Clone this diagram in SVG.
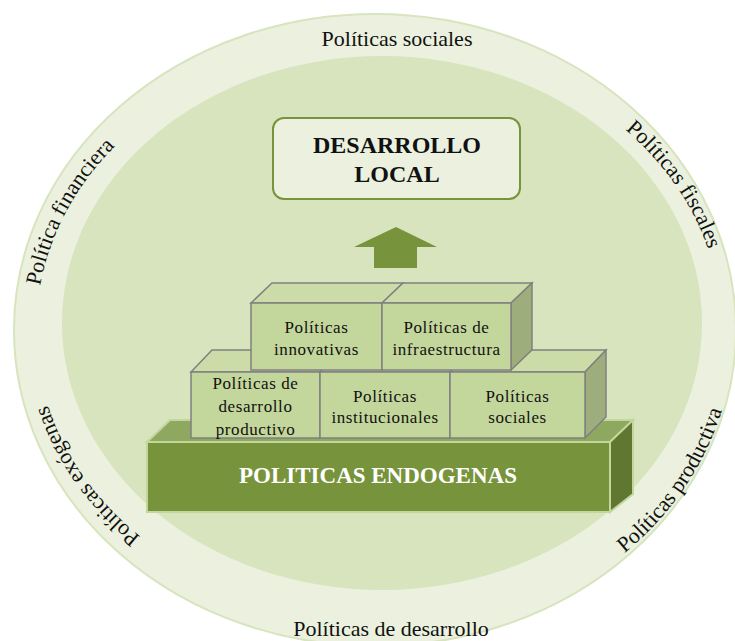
<svg xmlns="http://www.w3.org/2000/svg" xmlns:xlink="http://www.w3.org/1999/xlink" width="735" height="641" viewBox="0 0 735 641">
<style>
.ring{font-family:"Liberation Serif","Times New Roman",serif;font-size:22px;fill:#111;text-anchor:middle;}
.lbl{font-family:"Liberation Serif","Times New Roman",serif;font-size:17px;fill:#111;letter-spacing:0.6px;text-anchor:middle;}
.front{fill:#C3D69B;stroke:#808080;stroke-width:1.5;}
.top{fill:#CBDCA9;stroke:#808080;stroke-width:1.5;}
.side{fill:#9DAE7C;stroke:#808080;stroke-width:1.5;}
.bfront{fill:#77933C;stroke:#C3D69B;stroke-width:2;}
.btop{fill:#8FA85F;stroke:#C3D69B;stroke-width:2;}
.bside{fill:#5F7731;stroke:#C3D69B;stroke-width:2;}
</style>
<defs>
<path id="cwL" d="M 36,330 A 335 285 0 1 1 706,330 A 335 285 0 1 1 36,330"/>
<path id="cwR" d="M 52,330 A 335 285 0 1 1 722,330 A 335 285 0 1 1 52,330"/>
<path id="ccwR" d="M 36,330 A 349 307 0 1 0 734,330 A 349 307 0 1 0 36,330"/>
</defs>
<rect width="735" height="641" fill="#FFFFFF"/>
<g id="rings">
<ellipse cx="375" cy="330" rx="361" ry="316" fill="#EBF1DE" stroke="#D7E4BD" stroke-width="2"/>
<ellipse cx="382" cy="323" rx="320" ry="267" fill="#D7E4BD"/>
</g>
<g id="ring-labels">
<text class="ring" x="397" y="46">Políticas sociales</text>
<text class="ring"><textPath xlink:href="#cwL" href="#cwL" startOffset="6.4%">Política financiera</textPath></text>
<text class="ring"><textPath xlink:href="#cwR" href="#cwR" startOffset="42%">Políticas fiscales</textPath></text>
<text class="ring"><textPath xlink:href="#cwL" href="#cwL" startOffset="91.9%">Políticas exógenas</textPath></text>
<text class="ring" x="391" y="636">Políticas de desarrollo</text>
<text class="ring"><textPath xlink:href="#ccwR" href="#ccwR" startOffset="41.8%">Políticas productiva</textPath></text>
</g>
<g id="desarrollo-local">
<rect x="273" y="118" width="247" height="81" rx="11" fill="#EBF1DE" stroke="#77933C" stroke-width="2"/>
<text x="397" y="153" text-anchor="middle" font-family="Liberation Serif, Times New Roman, serif" font-size="24" font-weight="bold" fill="#111">DESARROLLO</text>
<text x="397" y="182" text-anchor="middle" font-family="Liberation Serif, Times New Roman, serif" font-size="24" font-weight="bold" fill="#111">LOCAL</text>
</g>
<g id="connectors">
<path d="M374,268 L374,247 L354,247 L396,227 L437,247 L417,247 L417,268 Z" fill="#77933C"/>
</g>
<g id="politicas-endogenas">
<polygon class="btop" points="147,442 170,420 633,420 610,442"/>
<polygon class="bside" points="610,442 633,420 633,494 610,512"/>
<rect class="bfront" x="147" y="442" width="463" height="70"/>
<text x="378" y="483" text-anchor="middle" font-family="Liberation Serif, Times New Roman, serif" font-size="23" font-weight="bold" fill="#FFFFFF">POLITICAS ENDOGENAS</text>
</g>
<g id="desarrollo-productivo">
<polygon class="top" points="191,372 212,350 341,350 320,372"/>
<rect class="front" x="191" y="372" width="129" height="66"/>
<text class="lbl" x="255.5" y="389">Políticas de</text>
<text class="lbl" x="255.5" y="412">desarrollo</text>
<text class="lbl" x="255.5" y="435">productivo</text>
</g>
<g id="institucionales">
<polygon class="top" points="320,372 341,350 471,350 450,372"/>
<rect class="front" x="320" y="372" width="130" height="66"/>
<text class="lbl" x="385" y="402">Políticas</text>
<text class="lbl" x="385" y="423">institucionales</text>
</g>
<g id="sociales">
<polygon class="top" points="450,372 471,350 606,350 585,372"/>
<polygon class="side" points="585,372 606,350 606,417 585,438"/>
<rect class="front" x="450" y="372" width="135" height="66"/>
<text class="lbl" x="517.5" y="402">Políticas</text>
<text class="lbl" x="517.5" y="423">sociales</text>
</g>
<g id="innovativas">
<polygon class="top" points="251,303 272,283 403,283 382,303"/>
<rect class="front" x="251" y="303" width="131" height="67"/>
<text class="lbl" x="316.5" y="333">Políticas</text>
<text class="lbl" x="316.5" y="355">innovativas</text>
</g>
<g id="infraestructura">
<polygon class="top" points="382,303 403,283 532,283 511,303"/>
<polygon class="side" points="511,303 532,283 532,350 511,370"/>
<rect class="front" x="382" y="303" width="129" height="67"/>
<text class="lbl" x="446.5" y="333">Políticas de</text>
<text class="lbl" x="446.5" y="355">infraestructura</text>
</g>
</svg>
